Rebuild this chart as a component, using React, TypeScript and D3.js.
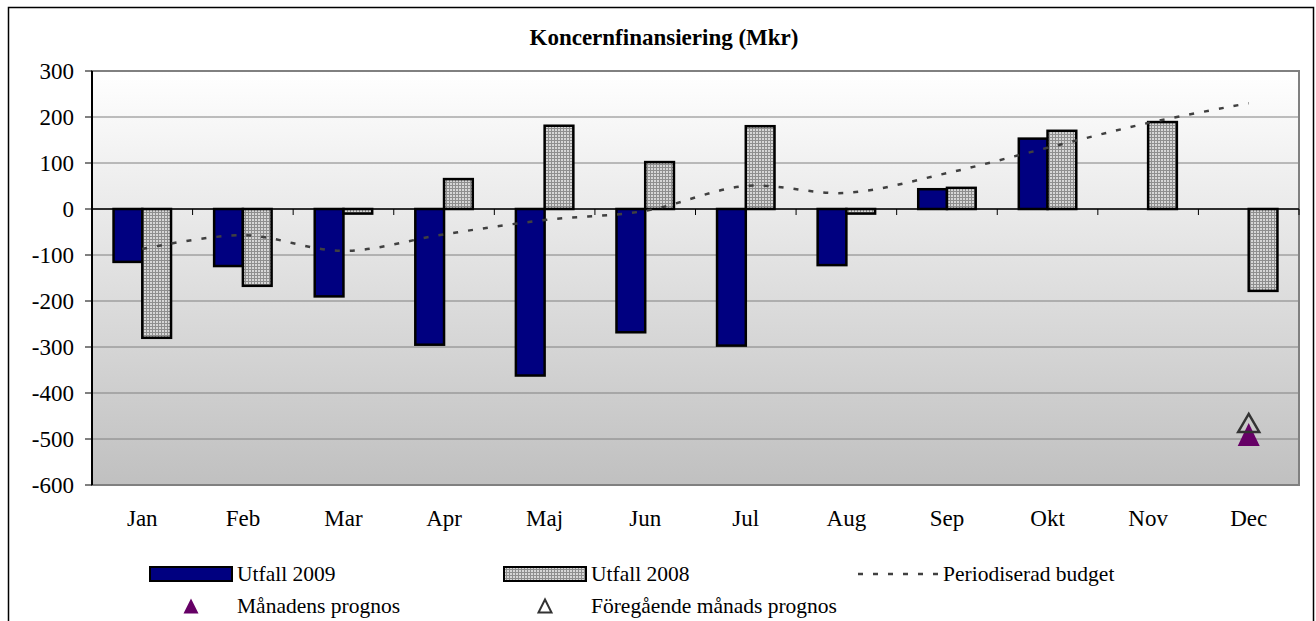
import React, { useEffect } from 'react';
import * as d3 from 'd3';

// values (Mkr)
const months = ['Jan', 'Feb', 'Mar', 'Apr', 'Maj', 'Jun', 'Jul', 'Aug', 'Sep', 'Okt', 'Nov', 'Dec'];
const utfall2009: (number | null)[] = [-115, -124, -190, -295, -362, -268, -297, -122, 43, 153, null, null];
const utfall2008: (number | null)[] = [-280, -167, -10, 65, 181, 102, 180, -10, 46, 170, 189, -178];
const budget = [-87, -57, -91, -55, -24, -4, 50, 35, 78, 133, 187, 230];
const manadensPrognos = [{ month: 'Dec', value: -490 }];
const foregaendePrognos = [{ month: 'Dec', value: -465 }];
const yTicks = [300, 200, 100, 0, -100, -200, -300, -400, -500, -600];

const W = 1316;
const H = 621;
const plot = { left: 92, right: 1299, top: 71, bottom: 485 };
const font = 'Liberation Serif, Times New Roman, DejaVu Serif, serif';

const tri = (cx: number, cy: number, w: number, h: number) =>
  `M${cx},${cy - h / 2} L${cx + w / 2},${cy + h / 2} L${cx - w / 2},${cy + h / 2} Z`;

export default function App() {
  useEffect(() => {
    document.body.style.margin = '0';
  }, []);

  const x = d3.scaleBand().domain(months).range([plot.left, plot.right]).padding(0);
  const y = d3.scaleLinear().domain([-600, 300]).range([plot.bottom, plot.top]);
  const bw = x.bandwidth() / 3.5;
  const cx = (m: string) => (x(m) as number) + x.bandwidth() / 2;

  const budgetLine = d3
    .line<number>()
    .x((_, i) => cx(months[i]))
    .y(d => y(d))
    .curve(d3.curveCatmullRom);

  const barRect = (v: number | null, i: number, offset: number) => {
    if (v == null) return null;
    const x0 = (x(months[i]) as number) + 0.75 * bw + offset * bw;
    const y0 = Math.min(y(v), y(0));
    return { x: x0, y: y0, w: bw, h: Math.abs(y(v) - y(0)) };
  };

  // legend columns
  const col = [150, 504, 858];

  return (
    <svg width={W} height={H} style={{ display: 'block', background: '#fff', fontFamily: font }}>
      <defs>
        <linearGradient id="bg" x1="0" y1="0" x2="0" y2="1">
          <stop offset="0%" stopColor="#ffffff" />
          <stop offset="100%" stopColor="#c0c0c0" />
        </linearGradient>
        <pattern id="dots" width="3" height="3" patternUnits="userSpaceOnUse">
          <rect width="3" height="3" fill="#8e8e8e" />
          <rect width="2" height="2" fill="#d6d6d6" />
        </pattern>
      </defs>

      <rect x={8.5} y={7.5} width={1305} height={H + 10} fill="#fff" stroke="#000" strokeWidth={1.5} />

      <text x={664} y={45} textAnchor="middle" fontWeight="bold" fontSize={23}>
        Koncernfinansiering (Mkr)
      </text>

      {/* plot area */}
      <rect x={plot.left} y={plot.top} width={plot.right - plot.left} height={plot.bottom - plot.top} fill="url(#bg)" />
      {yTicks.map(t => (
        <line key={t} x1={plot.left} x2={plot.right} y1={y(t)} y2={y(t)} stroke="#808080" strokeWidth={1} />
      ))}
      <rect x={plot.left} y={plot.top} width={plot.right - plot.left} height={plot.bottom - plot.top}
        fill="none" stroke="#808080" strokeWidth={2} />

      {/* y axis */}
      <line x1={plot.left} x2={plot.left} y1={plot.top} y2={plot.bottom} stroke="#000" strokeWidth={2} />
      {yTicks.map(t => (
        <g key={t}>
          <line x1={plot.left - 7} x2={plot.left} y1={y(t)} y2={y(t)} stroke="#000" strokeWidth={1} />
          <text x={74} y={y(t)} dy="0.34em" textAnchor="end" fontSize={23}>{t}</text>
        </g>
      ))}

      {/* bars */}
      {utfall2009.map((v, i) => {
        const r = barRect(v, i, 0);
        return r && <rect key={'a' + i} x={r.x} y={r.y} width={r.w} height={r.h} fill="#000080" stroke="#000" strokeWidth={2.5} />;
      })}
      {utfall2008.map((v, i) => {
        const r = barRect(v, i, 1);
        return r && <rect key={'b' + i} x={r.x} y={r.y} width={r.w} height={r.h} fill="url(#dots)" stroke="#000" strokeWidth={2.5} />;
      })}

      {/* category axis at zero */}
      <line x1={plot.left} x2={plot.right} y1={y(0)} y2={y(0)} stroke="#000" strokeWidth={1.5} />
      {[...months.map(m => x(m) as number), plot.right].map((px, i) => (
        <line key={i} x1={px} x2={px} y1={y(0)} y2={y(0) + 6} stroke="#000" strokeWidth={1} />
      ))}

      <path d={budgetLine(budget) || ''} fill="none" stroke="#404040" strokeWidth={2.5} strokeDasharray="5,10" />

      {manadensPrognos.map(p => (
        <path key={'m' + p.month} d={tri(cx(p.month), y(p.value), 22, 23)} fill="#660066" />
      ))}
      {foregaendePrognos.map(p => (
        <path key={'f' + p.month} d={tri(cx(p.month), y(p.value), 21, 18)} fill="none" stroke="#333" strokeWidth={2.5} />
      ))}

      {months.map(m => (
        <text key={m} x={cx(m)} y={526} textAnchor="middle" fontSize={23}>{m}</text>
      ))}

      {/* legend */}
      <g fontSize={21.5}>
        <rect x={col[0]} y={567} width={82} height={14} fill="#000080" stroke="#000" strokeWidth={2} />
        <text x={col[0] + 87} y={581}>Utfall 2009</text>
        <rect x={col[1]} y={567} width={82} height={14} fill="url(#dots)" stroke="#000" strokeWidth={2} />
        <text x={col[1] + 87} y={581}>Utfall 2008</text>
        <line x1={col[2]} x2={col[2] + 82} y1={574} y2={574} stroke="#404040" strokeWidth={2.5} strokeDasharray="5,10" />
        <text x={col[2] + 85} y={581}>Periodiserad budget</text>
        <path d={tri(col[0] + 41, 606, 15, 15)} fill="#660066" />
        <text x={col[0] + 87} y={613}>Månadens prognos</text>
        <path d={tri(col[1] + 41, 606, 13, 13)} fill="none" stroke="#333" strokeWidth={2} />
        <text x={col[1] + 87} y={613}>Föregående månads prognos</text>
      </g>
    </svg>
  );
}
